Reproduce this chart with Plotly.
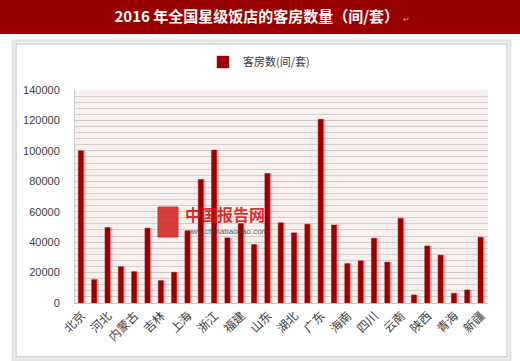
import plotly.graph_objects as go

provinces = ["北京", "天津", "河北", "山西", "内蒙古", "辽宁", "吉林", "黑龙江",
             "上海", "江苏", "浙江", "安徽", "福建", "江西", "山东", "河南",
             "湖北", "湖南", "广东", "广西", "海南", "重庆", "四川", "贵州",
             "云南", "西藏", "陕西", "甘肃", "青海", "宁夏", "新疆"]
rooms = [100000, 15400, 49600, 23900, 20600, 49200, 14700, 20200,
         47400, 81200, 100500, 42800, 52200, 38400, 85100, 52700,
         46100, 51800, 120700, 51300, 25900, 27700, 42600, 26800,
         55700, 5300, 37500, 31400, 6400, 8600, 43200]
series_name = "客房数(间/套)"
title_text = "2016 年全国星级饭店的客房数量（间/套）"
y_ticks = [0, 20000, 40000, 60000, 80000, 100000, 120000, 140000]
shown_labels = provinces[::2]

W, H = 520, 361
L, R, T, B = 75, 488, 90, 303
pw, ph = R - L, B - T


def px_x(x):
    return (x - L) / pw


def px_y(y):
    return (B - y) / ph


fig = go.Figure()

# bar shadow
fig.add_trace(go.Bar(
    x=provinces, y=rooms, width=0.42, offset=-0.12,
    marker=dict(color="rgba(110,110,110,0.35)", line=dict(width=0)),
    showlegend=False, hoverinfo="skip"))
fig.add_trace(go.Bar(
    x=provinces, y=rooms, name=series_name, width=0.38, offset=-0.25,
    marker=dict(color="#990000", line=dict(color="#b01010", width=0.5))))

shapes = []
# card shadow + card
shapes.append(dict(type="rect", xref="paper", yref="paper",
                   x0=px_x(13), x1=px_x(510), y0=px_y(360), y1=px_y(41),
                   line=dict(color="#e4e4e4", width=3), fillcolor="white", layer="below"))
shapes.append(dict(type="rect", xref="paper", yref="paper",
                   x0=px_x(16), x1=px_x(507), y0=px_y(357), y1=px_y(44),
                   line=dict(color="#cfcfcf", width=1.5), fillcolor="white", layer="below"))
# plot background
shapes.append(dict(type="rect", xref="paper", yref="paper",
                   x0=0, x1=1, y0=0, y1=1,
                   line=dict(width=0), fillcolor="#f8efef", layer="below"))
# title bar
shapes.append(dict(type="rect", xref="paper", yref="paper",
                   x0=px_x(-2), x1=px_x(W + 2), y0=px_y(34), y1=px_y(-2),
                   line=dict(width=0), fillcolor="#990000", layer="below"))
# watermark logo
shapes.append(dict(type="rect", xref="paper", yref="paper",
                   x0=px_x(158), x1=px_x(178), y0=px_y(237), y1=px_y(207),
                   line=dict(color="#b04040", width=1), fillcolor="rgba(210,30,30,0.85)",
                   layer="above"))

annotations = [
    dict(text="<b>中国报告网</b>", xref="paper", yref="paper",
         x=px_x(184), y=px_y(214), xanchor="left", showarrow=False, borderpad=0,
         font=dict(family="Noto Sans CJK SC", size=16, color="rgba(220,20,20,0.9)")),
    dict(text="www.chinabaogao.com", xref="paper", yref="paper",
         x=px_x(184), y=px_y(237), xanchor="left", showarrow=False, borderpad=0,
         font=dict(family="Liberation Sans", size=8, color="rgba(60,60,60,0.85)")),
]

fig.update_layout(
    width=W, height=H,
    margin=dict(l=L, r=W - R, t=T, b=H - B, pad=0, autoexpand=False),
    paper_bgcolor="white", plot_bgcolor="rgba(0,0,0,0)",
    barmode="overlay",
    title=dict(text="<b>" + title_text + "</b> <span style='font-size:8px;color:#d0a0a0'>↵</span>",
               xref="container", yref="container", x=262 / W, y=1 - 17 / H,
               xanchor="center", yanchor="middle",
               font=dict(family="Noto Sans CJK SC", size=15, color="white")),
    showlegend=True,
    legend=dict(orientation="h", xref="container", yref="container",
                x=259 / W, y=1 - 62 / H, xanchor="center",
                yanchor="middle", font=dict(family="Noto Sans CJK SC", size=11, color="#404040"),
                bgcolor="rgba(0,0,0,0)", itemwidth=30, traceorder="normal"),
    shapes=shapes, annotations=annotations,
    font=dict(family="Noto Sans CJK SC"),
)

fig.update_xaxes(
    type="category", categoryorder="array", categoryarray=provinces,
    tickmode="array", tickvals=shown_labels, ticktext=shown_labels,
    tickangle=-45, tickfont=dict(family="Noto Sans CJK SC", size=12, color="#404040"),
    showgrid=False, showline=True, linecolor="#c8c8c8", linewidth=1,
    ticks="", range=[-0.5, len(provinces) - 0.5], automargin=False)
fig.update_yaxes(
    range=[0, 140000], tickmode="array", tickvals=y_ticks,
    ticktext=[str(v) for v in y_ticks],
    tickfont=dict(family="Liberation Sans", size=11, color="#404040"),
    showgrid=True, gridcolor="#cfcaca", gridwidth=1,
    minor=dict(dtick=4000, showgrid=True, gridcolor="#d3cdcd", gridwidth=1),
    zeroline=False, showline=True, linecolor="#cfcfcf", ticks="", ticklabelstandoff=12,
    automargin=False)

fig.write_html("out.html", config={"displayModeBar": False},
               post_script="document.body.style.margin='0';document.body.style.overflow='hidden';")
